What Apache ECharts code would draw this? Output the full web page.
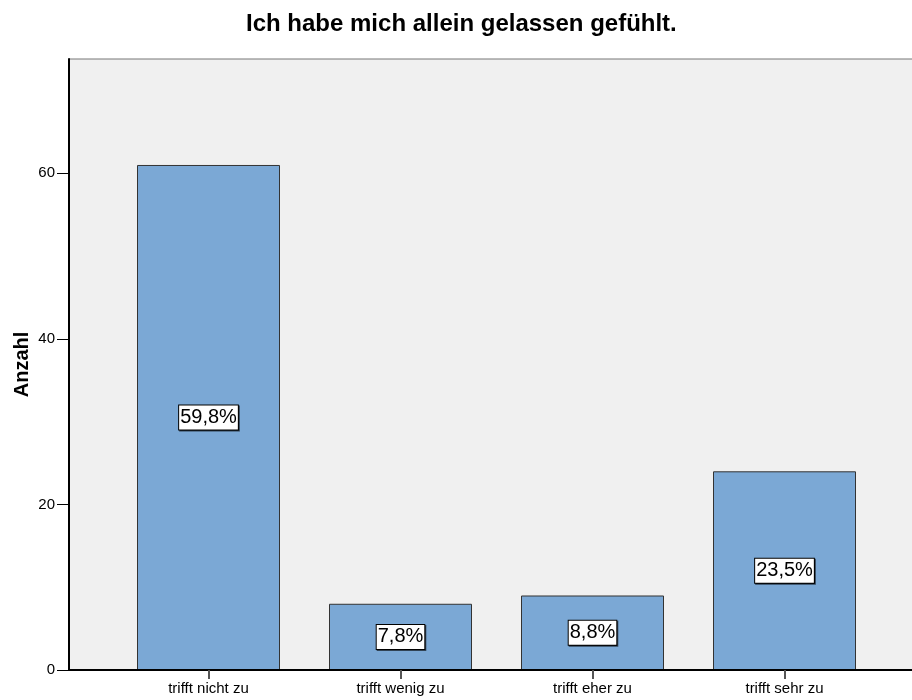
<!DOCTYPE html>
<html lang="de">
<head>
    <meta charset="UTF-8">
    <title>Ich habe mich allein gelassen gefühlt.</title>
    <style>
        body, html {
            margin: 0;
            padding: 0;
            height: 100%;
            width: 100%;
            background: #fff;
        }
    </style>
</head>
<body>
<div id="main" style="height: 700px; width: 912px;"></div>
<script src="https://cdn.jsdelivr.net/npm/echarts@6/dist/echarts.min.js"></script>
<script>
    // Daten
    var categories = ['trifft nicht zu', 'trifft wenig zu', 'trifft eher zu', 'trifft sehr zu'];
    var counts = [61, 8, 9, 24];
    var percentLabels = ['59,8%', '7,8%', '8,8%', '23,5%'];
    var yTicks = [0, 20, 40, 60];

    var font = '"Liberation Sans", Arial, sans-serif';

    var myChart = echarts.init(document.getElementById('main'));

    myChart.setOption({
        backgroundColor: '#fff',
        animation: false,
        title: {
            text: 'Ich habe mich allein gelassen gefühlt.',
            left: 246,
            top: 12,
            padding: 0,
            textStyle: {
                fontFamily: font,
                fontSize: 24,
                fontWeight: 'bold',
                color: '#000'
            }
        },
        grid: [
            // Balken
            { left: 112.5, right: 31.5, top: 59, bottom: 30, outerBoundsMode: 'none' },
            // Hintergrund der Plotfläche (rechter Rand liegt ausserhalb des Bildes)
            {
                left: 69, right: -12, top: 59, bottom: 30,
                outerBoundsMode: 'none',
                show: true,
                backgroundColor: '#f0f0f0',
                borderColor: '#777',
                borderWidth: 1
            }
        ],
        xAxis: [
            {
                type: 'category',
                gridIndex: 0,
                data: categories,
                z: 10,
                axisLine: { show: true, lineStyle: { color: '#000', width: 2 } },
                axisTick: {
                    show: true,
                    interval: 0,
                    alignWithLabel: true,
                    length: 9,
                    lineStyle: { color: '#555', width: 2 }
                },
                axisLabel: {
                    fontFamily: font,
                    fontSize: 15,
                    color: '#000',
                    margin: 11
                }
            },
            {
                type: 'category',
                gridIndex: 1,
                data: [''],
                axisLine: { show: true, lineStyle: { color: '#000', width: 2 } },
                axisTick: { show: false },
                axisLabel: { show: false }
            }
        ],
        yAxis: [
            {
                type: 'value',
                gridIndex: 0,
                min: 0,
                max: 73.8,
                interval: 20,
                offset: 43.5,
                name: 'Anzahl',
                nameLocation: 'middle',
                nameGap: 37,
                nameMoveOverlap: false,
                nameTextStyle: {
                    fontFamily: font,
                    fontSize: 20,
                    fontWeight: 'bold',
                    color: '#000'
                },
                splitLine: { show: false },
                axisLine: { show: false },
                axisTick: {
                    show: true,
                    length: 12,
                    customValues: yTicks,
                    lineStyle: { color: '#000', width: 1 }
                },
                axisLabel: {
                    customValues: yTicks,
                    fontFamily: font,
                    fontSize: 15,
                    color: '#000',
                    margin: 14
                }
            },
            {
                type: 'value',
                gridIndex: 1,
                min: 0,
                max: 1,
                axisLine: { show: true, lineStyle: { color: '#000', width: 2 } },
                axisTick: { show: false },
                axisLabel: { show: false },
                splitLine: { show: false }
            }
        ],
        series: [
            {
                type: 'bar',
                xAxisIndex: 0,
                yAxisIndex: 0,
                data: counts,
                barWidth: 143,
                z: 5,
                itemStyle: {
                    color: '#7ba8d5',
                    borderColor: '#333',
                    borderWidth: 1
                },
                label: {
                    show: true,
                    position: 'inside',
                    formatter: function (p) {
                        return percentLabels[p.dataIndex];
                    },
                    fontFamily: font,
                    fontSize: 20,
                    color: '#000',
                    backgroundColor: '#fff',
                    borderColor: '#000',
                    borderWidth: 1,
                    padding: [3, 1, 1, 1],
                    shadowColor: 'rgba(0,0,0,0.6)',
                    shadowOffsetX: 1,
                    shadowOffsetY: 1
                }
            }
        ]
    });
</script>
</body>
</html>
